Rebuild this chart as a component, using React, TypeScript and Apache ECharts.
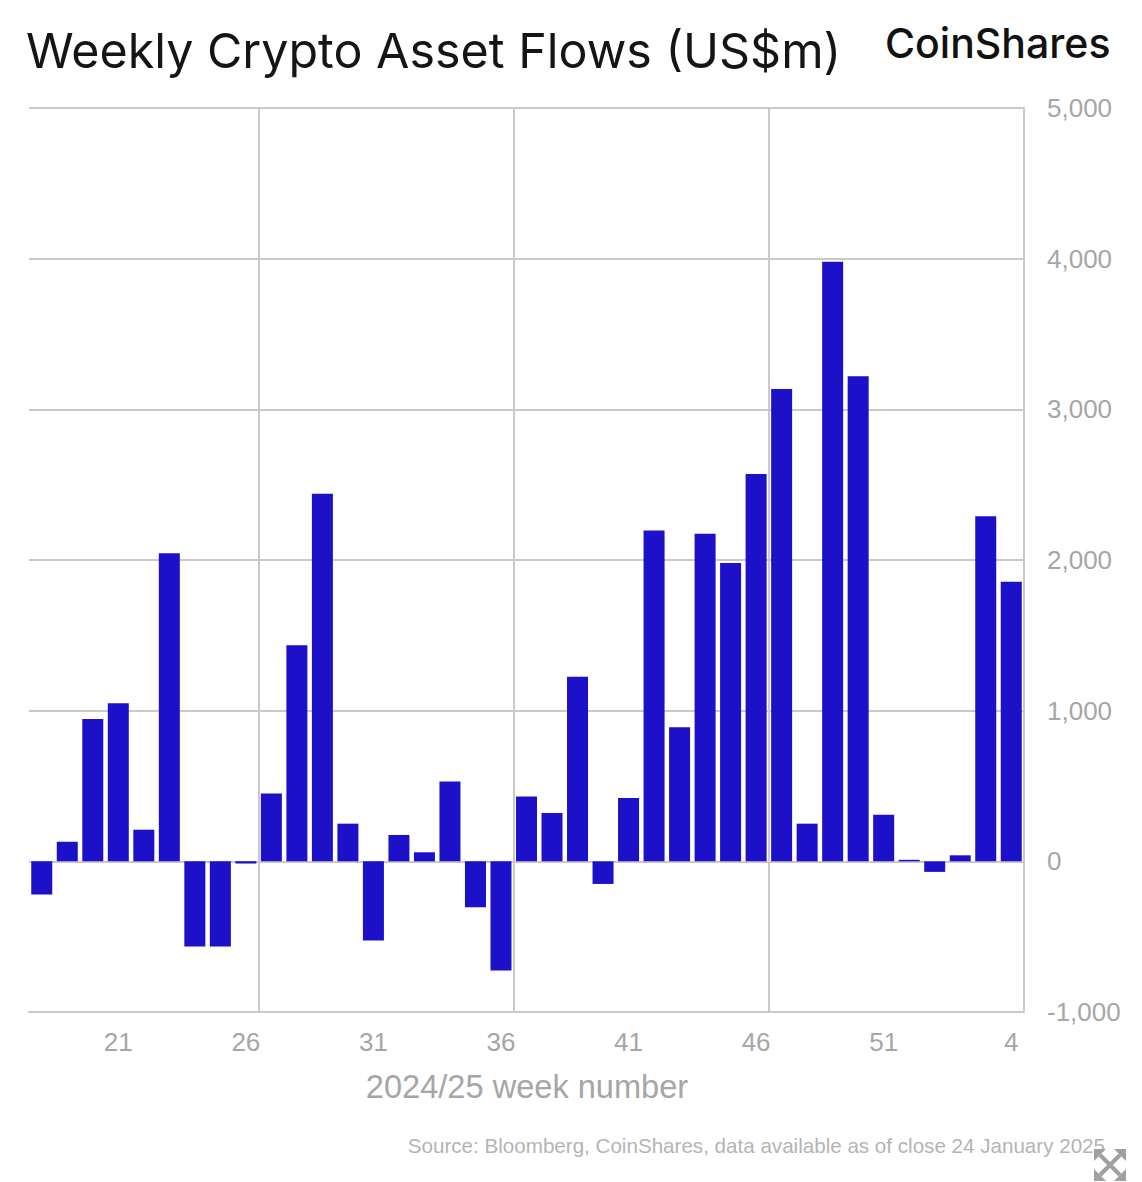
import React, { useEffect, useRef } from "react";
import * as echarts from "echarts";

const weeks = ["18","19","20","21","22","23","24","25","26","27","28","29","30","31","32","33","34","35","36","37","38","39","40","41","42","43","44","45","46","47","48","49","50","51","52","1","2","3","4"];
const flows = [-220,130,945,1050,210,2045,-565,-565,-15,450,1435,2440,250,-525,175,60,530,-305,-725,430,320,1225,-150,420,2195,890,2175,1980,2570,3135,250,3980,3220,310,10,-70,40,2290,1855];
const yTicks = { min: -1000, max: 5000, interval: 1000 };
const titleText = "Weekly Crypto Asset Flows (US$m)";
const brandText = "CoinShares";
const xAxisTitle = "2024/25 week number";
const sourceText = "Source: Bloomberg, CoinShares, data available as of close 24 January 2025";

const GRID = "#c9c9c9";
const LABEL = "#a6a6a6";
const BAR = "#1c10c8";
const FONT = "'Liberation Sans', Arial, sans-serif";

export default function App() {
  const ref = useRef<HTMLDivElement>(null);
  useEffect(() => {
    const chart = echarts.init(ref.current!, null, { renderer: "svg" });
    const icon = "#a0a0a0";
    chart.setOption({
      animation: false,
      backgroundColor: "#ffffff",
      textStyle: { fontFamily: FONT },
      grid: { left: 29, right: 118, top: 108, bottom: 170, containLabel: false },
      xAxis: {
        type: "category",
        data: weeks,
        boundaryGap: true,
        position: "bottom",
        axisLine: { onZero: false, lineStyle: { color: GRID, width: 2 } },
        axisTick: { show: false },
        axisLabel: {
          color: LABEL,
          fontSize: 26,
          fontFamily: FONT,
          margin: 17,
          interval: (i: number) => i % 5 === 3,
        },
        splitLine: {
          show: true,
          interval: (i: number) => i % 10 === 9,
          lineStyle: { color: GRID, width: 2 },
        },
      },
      yAxis: {
        type: "value",
        position: "right",
        min: yTicks.min,
        max: yTicks.max,
        interval: yTicks.interval,
        axisLine: { show: true, lineStyle: { color: GRID, width: 2 } },
        axisTick: { show: false },
        axisLabel: {
          color: LABEL,
          fontSize: 26,
          fontFamily: FONT,
          margin: 23,
          padding: [0, 0, 2, 0],
          formatter: (v: number) => v.toLocaleString("en-US"),
        },
        splitLine: { show: true, lineStyle: { color: GRID, width: 2 } },
      },
      series: [
        {
          type: "bar",
          data: flows,
          barWidth: 21,
          itemStyle: { color: BAR },
          silent: true,
        },
      ],
      graphic: [
        { type: "text", x: 26, y: 26, style: { text: titleText, fontFamily: "Inter, " + FONT, fontSize: 48.4, fill: "#151515", fontWeight: 400 } },
        { type: "text", x: 885, y: 22, style: { text: brandText, fontFamily: "Inter, " + FONT, fontSize: 41, fill: "#111111", fontWeight: 500 } },
        { type: "text", x: 527, y: 1086, style: { text: xAxisTitle, fontFamily: FONT, fontSize: 32.6, fill: LABEL, align: "center", verticalAlign: "middle" } },
        { type: "text", x: 1105, y: 1145, style: { text: sourceText, fontFamily: FONT, fontSize: 20.6, fill: "#b4b4b4", align: "right", verticalAlign: "middle" } },
        { type: "line", shape: { x1: 1100, y1: 1155, x2: 1120, y2: 1175 }, style: { stroke: icon, lineWidth: 4 } },
        { type: "line", shape: { x1: 1120, y1: 1155, x2: 1100, y2: 1175 }, style: { stroke: icon, lineWidth: 4 } },
        { type: "polygon", shape: { points: [[1094,1149],[1106,1149],[1094,1161]] }, style: { fill: icon } },
        { type: "polygon", shape: { points: [[1126,1149],[1114,1149],[1126,1161]] }, style: { fill: icon } },
        { type: "polygon", shape: { points: [[1094,1181],[1106,1181],[1094,1169]] }, style: { fill: icon } },
        { type: "polygon", shape: { points: [[1126,1181],[1114,1181],[1126,1169]] }, style: { fill: icon } },
      ],
    });
    return () => chart.dispose();
  }, []);
  return <div ref={ref} style={{ position: "absolute", left: 0, top: 0, width: 1142, height: 1182 }} />;
}
